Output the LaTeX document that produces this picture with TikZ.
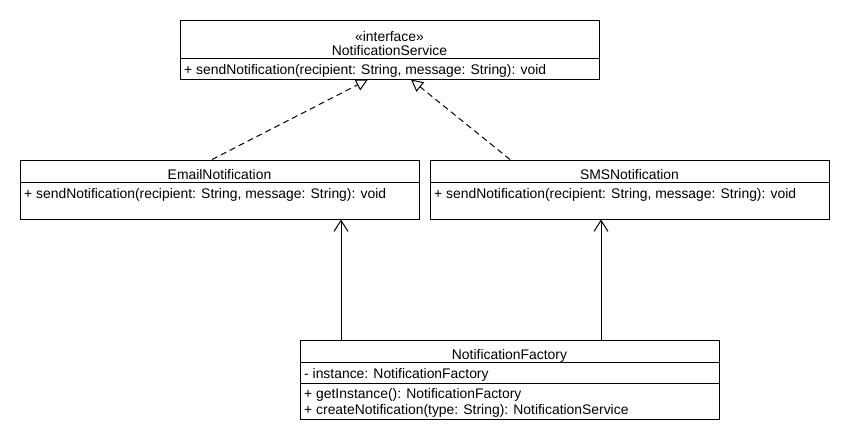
\documentclass[tikz,border=0pt]{standalone}
\usepackage{fontspec}
\setmainfont{Liberation Sans}
\usetikzlibrary{arrows.meta,calc}
\begin{document}
\begin{tikzpicture}[x=1pt,y=-1pt,
  box/.style={draw, line width=1pt, inner sep=0pt, rectangle},
  divider/.style={line width=1pt},
  ttl/.style={anchor=base, inner sep=0pt, font=\fontsize{13.9pt}{16pt}\selectfont},
  mbr/.style={anchor=base west, inner sep=0pt, font=\fontsize{13.9pt}{16pt}\selectfont},
  realize/.style={line width=1pt, dash pattern=on 6pt off 4pt, -{Triangle[open, length=12pt, width=12pt, fill=white]}},
  assoc/.style={line width=1pt, -{Straight Barb[length=11pt, width=14pt, line width=1pt]}}
]
\useasboundingbox (0,0) rectangle (850,440);

% boxes
\node[box, minimum width=419pt, minimum height=59pt] (svc) at (389.5,49.5) {};
\node[box, minimum width=399pt, minimum height=59pt] (email) at (219.5,189.5) {};
\node[box, minimum width=399pt, minimum height=59pt] (sms) at (629.5,189.5) {};
\node[box, minimum width=419pt, minimum height=79pt] (fac) at (509.5,379.5) {};

% dividers
\draw[divider] ($(svc.north west)+(0,39)$) -- ($(svc.north east)+(0,39)$);
\draw[divider] ($(email.north west)+(0,23)$) -- ($(email.north east)+(0,23)$);
\draw[divider] ($(sms.north west)+(0,23)$) -- ($(sms.north east)+(0,23)$);
\draw[divider] ($(fac.north west)+(0,23)$) -- ($(fac.north east)+(0,23)$);
\draw[divider] ($(fac.north west)+(0,44)$) -- ($(fac.north east)+(0,44)$);

% texts
\node[ttl] (svcst) at (389.5,41.5) {«interface»};
\node[ttl] (svcname) at (389.5,55) {NotificationService};
\node[mbr] (svcm) at (184,74) {+ sendNotification(recipient: String, message: String): void};

\node[ttl] (emailname) at (219.5,179) {EmailNotification};
\node[mbr] (emailm) at (24,198) {+ sendNotification(recipient: String, message: String): void};

\node[ttl] (smsname) at (629.5,179) {SMSNotification};
\node[mbr] (smsm) at (434,198) {+ sendNotification(recipient: String, message: String): void};

\node[ttl] (facname) at (509.5,359) {NotificationFactory};
\node[mbr] (faca) at (304,378) {- instance: NotificationFactory};
\node[mbr] (facm1) at (304,398) {+ getInstance(): NotificationFactory};
\node[mbr] (facm2) at (304,414) {+ createNotification(type: String): NotificationService};

% connectors
\draw[realize] ($(email.north)+(-7.5,0)$) -- ($(svc.south)+(-21.5,0)$);
\draw[realize] ($(sms.north)+(-119.5,0)$) -- ($(svc.south)+(21.5,0)$);
\draw[assoc] ($(fac.north)+(-168.5,0)$) -- ($(email.south)+(121.5,0)$);
\draw[assoc] ($(fac.north)+(91.5,0)$) -- ($(sms.south)+(-28.5,0)$);
\end{tikzpicture}
\end{document}
